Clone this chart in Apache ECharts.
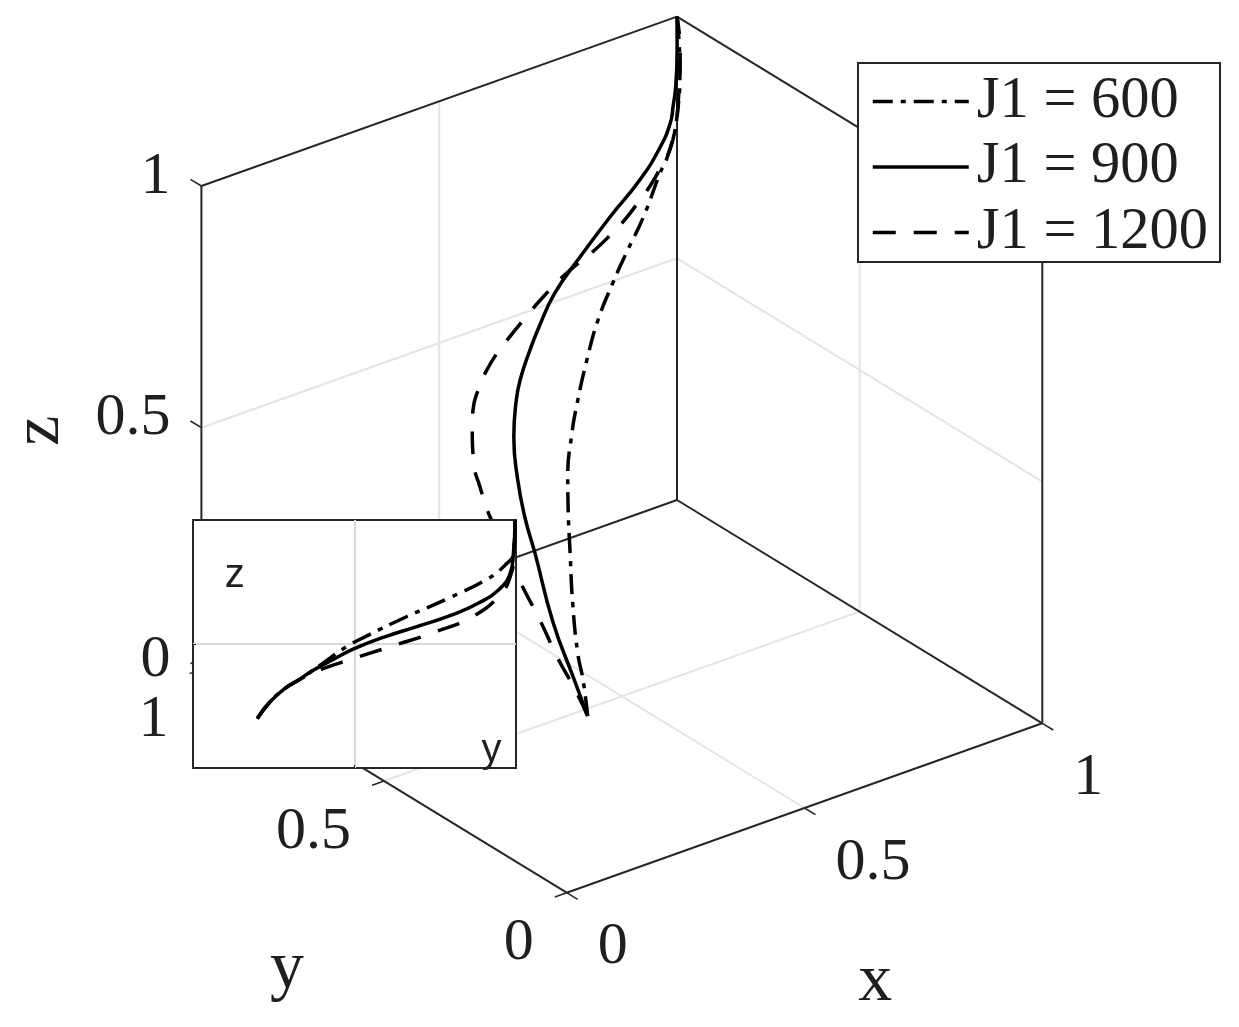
<!DOCTYPE html>
<html>
<head>
<meta charset="utf-8">
<title>J1 trajectories</title>
<script src="https://cdn.jsdelivr.net/npm/echarts@6/dist/echarts.min.js"></script>
<style>
  html, body { margin: 0; padding: 0; background: #fff; }
  #chart { width: 1239px; height: 1027px; }
</style>
</head>
<body>
<div id="chart"></div>
<script>
// 3D curves
const x600 = [0.412, 0.430, 0.441, 0.468, 0.498, 0.526, 0.546, 0.581, 0.608, 0.650, 0.692, 0.736, 0.778, 0.821, 0.873, 0.895, 0.933, 0.970, 1]
const y600 = [0.479, 0.515, 0.544, 0.593, 0.639, 0.681, 0.708, 0.742, 0.763, 0.791, 0.815, 0.832, 0.846, 0.859, 0.881, 0.888, 0.913, 0.953, 1]
const z600 = [0, 0.051, 0.090, 0.162, 0.233, 0.299, 0.342, 0.405, 0.447, 0.509, 0.566, 0.619, 0.666, 0.713, 0.776, 0.802, 0.856, 0.928, 1]

const x900 = [0.412, 0.419, 0.429, 0.451, 0.462, 0.479, 0.501, 0.528, 0.548, 0.581, 0.611, 0.653, 0.710, 0.777, 0.841, 0.890, 0.920, 0.934, 0.953, 0.978, 1]
const y900 = [0.479, 0.528, 0.596, 0.674, 0.716, 0.759, 0.797, 0.826, 0.841, 0.857, 0.869, 0.882, 0.888, 0.893, 0.895, 0.903, 0.914, 0.925, 0.942, 0.971, 1]
const z900 = [0, 0.056, 0.134, 0.233, 0.284, 0.342, 0.399, 0.449, 0.480, 0.523, 0.559, 0.605, 0.656, 0.713, 0.766, 0.813, 0.848, 0.871, 0.902, 0.952, 1]

const x1200 = [0.412, 0.413, 0.411, 0.413, 0.412, 0.416, 0.423, 0.431, 0.452, 0.465, 0.485, 0.506, 0.537, 0.563, 0.596, 0.634, 0.674, 0.759, 0.828, 0.883, 0.912, 0.946, 0.982, 1]
const y1200 = [0.479, 0.514, 0.560, 0.611, 0.664, 0.751, 0.788, 0.816, 0.847, 0.862, 0.874, 0.882, 0.888, 0.889, 0.890, 0.890, 0.888, 0.877, 0.877, 0.886, 0.897, 0.926, 0.968, 1]
const z1200 = [0, 0.037, 0.083, 0.137, 0.192, 0.284, 0.327, 0.363, 0.412, 0.437, 0.466, 0.490, 0.520, 0.542, 0.569, 0.599, 0.628, 0.683, 0.738, 0.790, 0.823, 0.881, 0.952, 1]

// inset view (y, z)
const insetY600 = [0.199, 0.238, 0.284, 0.326, 0.367, 0.408, 0.475, 0.537, 0.661, 0.790, 0.914, 0.966, 0.992, 0.997]
const insetZ600 = [0.199, 0.266, 0.320, 0.354, 0.390, 0.428, 0.489, 0.532, 0.610, 0.684, 0.764, 0.818, 0.865, 1]
const insetY900 = [0.199, 0.238, 0.284, 0.326, 0.367, 0.439, 0.501, 0.594, 0.698, 0.800, 0.883, 0.945, 0.982, 0.992, 0.997]
const insetZ900 = [0.199, 0.266, 0.320, 0.354, 0.390, 0.441, 0.482, 0.529, 0.572, 0.616, 0.664, 0.717, 0.785, 0.865, 1]
const insetY1200 = [0.199, 0.238, 0.284, 0.326, 0.367, 0.403, 0.491, 0.615, 0.744, 0.868, 0.950, 0.982, 0.994, 0.997]
const insetZ1200 = [0.199, 0.266, 0.320, 0.354, 0.380, 0.401, 0.439, 0.491, 0.546, 0.612, 0.697, 0.771, 0.865, 1]

const seriesNames = ['J1 = 600', 'J1 = 900', 'J1 = 1200']
const dashTypes = [[20, 8, 5, 8], 'solid', [23, 18]]

const tickValues = [0, 0.5, 1]
const tickLabels = ['0', '0.5', '1']

// box edges and grid lines, in axis units
const boxEdges = [
  [[0, 1, 1], [1, 1, 1]], [[1, 1, 1], [1, 0, 1]],
  [[1, 1, 0], [1, 1, 1]], [[1, 0, 0], [1, 0, 1]], [[0, 1, 0], [0, 1, 1]],
  [[0, 1, 0], [1, 1, 0]], [[1, 1, 0], [1, 0, 0]],
  [[0, 0, 0], [1, 0, 0]], [[0, 0, 0], [0, 1, 0]]
]
const gridEdges = [
  [[0.5, 0, 0], [0.5, 1, 0]], [[0.5, 1, 0], [0.5, 1, 1]],
  [[0, 0.5, 0], [1, 0.5, 0]], [[1, 0.5, 0], [1, 0.5, 1]],
  [[0, 1, 0.5], [1, 1, 0.5]], [[1, 1, 0.5], [1, 0, 0.5]]
]

// fixed view of the 3D box onto the hidden plane axes
const VIEW = { ox: 566.7, oy: 892.7, xu: 475.6, xv: -169.4, yu: -365.3, yv: -223.3, zv: -483.4 }
const project = (x, y, z) => [
  VIEW.ox + VIEW.xu * x + VIEW.yu * y,
  VIEW.oy + VIEW.xv * x + VIEW.yv * y + VIEW.zv * z
]

const serif = 'Liberation Serif'
const textColor = '#1f1f1f'

const edgeSeries = (edge, color, width, z) => ({
  type: 'line',
  xAxisIndex: 0,
  yAxisIndex: 0,
  z,
  silent: true,
  symbol: 'none',
  lineStyle: { color, width },
  data: edge.map(p => project(p[0], p[1], p[2]))
})

// small ticks along the three visible axes
const tickEdges = []
tickValues.forEach(t => {
  tickEdges.push([[t, 0, 0], [t, -0.03, 0]])
  tickEdges.push([[0, t, 0], [-0.025, t, 0]])
  tickEdges.push([[0, 1, t], [0, 1.03, t]])
})

const textSeries = (point, text, style) => ({
  type: 'scatter',
  xAxisIndex: style.inset ? 1 : 0,
  yAxisIndex: style.inset ? 1 : 0,
  z: style.inset ? 14 : 3,
  silent: true,
  symbolSize: 1,
  itemStyle: { color: 'transparent', opacity: 1 },
  label: {
    show: true,
    formatter: text,
    position: 'inside',
    align: style.align || 'center',
    verticalAlign: 'middle',
    offset: style.offset || [0, 0],
    rotate: style.rotate || 0,
    fontFamily: style.font || serif,
    fontSize: style.size,
    color: textColor
  },
  data: [point]
})

const tickText = []
tickValues.forEach((t, i) => {
  tickText.push(textSeries(project(0, 1, t), tickLabels[i], { size: 60, align: 'right', offset: [-31, -9] }))
  tickText.push(textSeries(project(0, t, 0), tickLabels[i], { size: 60, align: 'right', offset: [-33, 51] }))
  tickText.push(textSeries(project(t, 0, 0), tickLabels[i], { size: 60, align: 'left', offset: [31, 55] }))
})

const curve = (i, xs, ys, zs) => ({
  name: seriesNames[i],
  type: 'line',
  xAxisIndex: 0,
  yAxisIndex: 0,
  z: 4,
  smooth: 0.5,
  symbol: 'none',
  lineStyle: { color: '#000', width: 3.5, type: dashTypes[i] },
  data: xs.map((x, k) => project(x, ys[k], zs[k]))
})

const insetCurve = (i, ys, zs) => ({
  name: seriesNames[i],
  type: 'line',
  xAxisIndex: 1,
  yAxisIndex: 1,
  z: 13,
  smooth: 0.5,
  symbol: 'none',
  lineStyle: { color: '#000', width: 3.5, type: dashTypes[i] },
  data: ys.map((y, k) => [y, zs[k]])
})

const insetAxis = () => ({
  type: 'value',
  gridIndex: 1,
  min: 0,
  max: 1,
  interval: 0.5,
  z: 12,
  axisLine: { show: false },
  axisLabel: { show: false },
  axisTick: { show: true, inside: true, length: 3, lineStyle: { color: '#262626', width: 1 } },
  splitLine: { show: true, showMinLine: false, showMaxLine: false, lineStyle: { color: '#d9d9d9', width: 2 } }
})

const chart = echarts.init(document.getElementById('chart'), null, { renderer: 'canvas' })

chart.setOption({
  animation: false,
  backgroundColor: '#fff',
  legend: {
    data: seriesNames,
    orient: 'vertical',
    left: 858,
    top: 63,
    z: 20,
    padding: [9, 12, 0, 13],
    itemGap: 6.5,
    itemWidth: 96,
    itemHeight: 14,
    selectedMode: false,
    backgroundColor: '#fff',
    borderColor: '#262626',
    borderWidth: 2,
    itemStyle: { color: 'transparent', borderWidth: 0 },
    lineStyle: { width: 3.5 },
    textStyle: { fontFamily: serif, fontSize: 58.5, color: textColor, padding: [0, 0, 0, 3] }
  },
  grid: [
    { left: 0, top: 0, width: 1239, height: 1027 },
    {
      left: 193,
      top: 520,
      width: 323,
      height: 248,
      show: true,
      z: 10,
      backgroundColor: '#fff',
      borderColor: '#262626',
      borderWidth: 2
    }
  ],
  xAxis: [
    { type: 'value', gridIndex: 0, min: 0, max: 1239, show: false },
    insetAxis()
  ],
  yAxis: [
    { type: 'value', gridIndex: 0, min: 0, max: 1027, inverse: true, show: false },
    insetAxis()
  ],
  series: [
    ...gridEdges.map(e => edgeSeries(e, '#e4e4e4', 2, 1)),
    ...boxEdges.map(e => edgeSeries(e, '#262626', 2, 2)),
    ...tickEdges.map(e => edgeSeries(e, '#262626', 1.5, 2)),
    curve(0, x600, y600, z600),
    curve(1, x900, y900, z900),
    curve(2, x1200, y1200, z1200),
    ...tickText,
    textSeries(project(0.5, -0.5, 0), 'x', { size: 68, offset: [-112, 62] }),
    textSeries(project(0, 0.5, 0), 'y', { size: 68, offset: [-97, 189] }),
    textSeries(project(0, 1, 0.5), 'z', { size: 68, rotate: 90, offset: [-3, -161] }),
    insetCurve(0, insetY600, insetZ600),
    insetCurve(1, insetY900, insetZ900),
    insetCurve(2, insetY1200, insetZ1200),
    textSeries([0.129, 0.775], 'z', { size: 40, font: 'Liberation Sans', inset: true }),
    textSeries([0.924, 0.067], 'y', { size: 40, font: 'Liberation Sans', inset: true })
  ]
})
</script>
</body>
</html>
